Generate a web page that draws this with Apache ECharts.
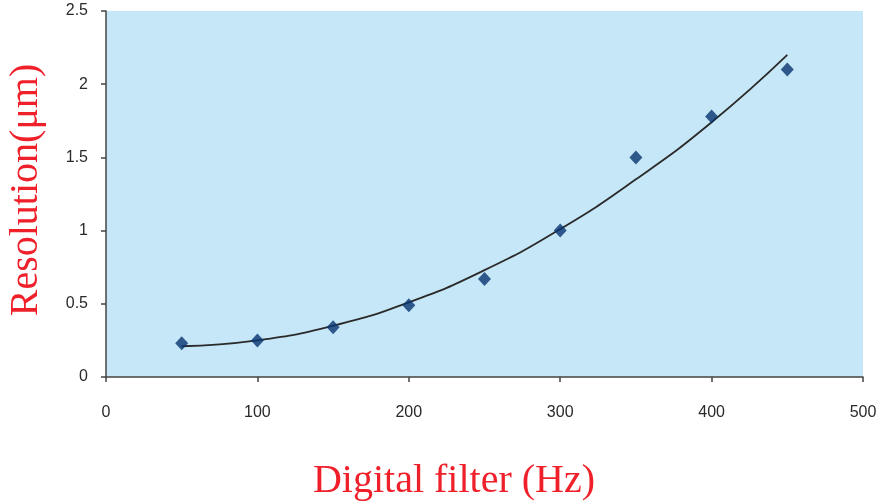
<!DOCTYPE html>
<html>
<head>
<meta charset="utf-8">
<script src="https://cdn.jsdelivr.net/npm/echarts@6/dist/echarts.min.js"></script>
<style>html,body{margin:0;padding:0;background:#fff}#c{width:883px;height:504px}</style>
</head>
<body>
<div id="c"></div>
<script>
var filterHz = [50, 100, 150, 200, 250, 300, 350, 400, 450];
var resolution = [0.23, 0.25, 0.34, 0.49, 0.67, 1.0, 1.5, 1.78, 2.1];
var trendHz = [50, 100, 150, 200, 250, 300, 350, 400, 450];
var trendRes = [0.21, 0.25, 0.35, 0.51, 0.73, 1.01, 1.35, 1.74, 2.2];
var xTicks = [0, 100, 200, 300, 400, 500];
var yTicks = [0, 0.5, 1, 1.5, 2, 2.5];
var xTitle = 'Digital filter (Hz)';
var yTitle = 'Resolution(μm)';

var chart = echarts.init(document.getElementById('c'));
chart.setOption({
  animation: false,
  grid: {left: 106, right: 20, top: 11, bottom: 127, show: true, backgroundColor: '#c6e7f7', borderWidth: 0, outerBoundsMode: 'none', containLabel: false},
  xAxis: {
    type: 'value', min: xTicks[0], max: xTicks[xTicks.length-1], interval: 100,
    axisLine: {lineStyle: {color: '#444', width: 1.5}},
    axisTick: {show: true, length: 5, lineStyle: {color: '#444', width: 1.5}},
    axisLabel: {fontFamily: 'Liberation Sans', fontSize: 16, color: '#2a2a2a', margin: 28},
    splitLine: {show: false}
  },
  yAxis: {
    type: 'value', min: yTicks[0], max: yTicks[yTicks.length-1], interval: 0.5,
    axisLine: {show: true, lineStyle: {color: '#444', width: 1.5}},
    axisTick: {show: true, length: 5, lineStyle: {color: '#444', width: 1.5}},
    axisLabel: {fontFamily: 'Liberation Sans', fontSize: 16, color: '#2a2a2a', margin: 18},
    splitLine: {show: false}
  },
  graphic: [
    {type: 'text', x: 454, y: 481, style: {text: xTitle, x: 0, y: 0, align: 'center', verticalAlign: 'middle', fontFamily: 'Liberation Serif', fontSize: 40, fill: '#f0202a'}},
    {type: 'text', style: {text: yTitle, x: 0, y: 0, align: 'center', verticalAlign: 'middle', fontFamily: 'Liberation Serif', fontSize: 40, fill: '#f0202a'}, x: 26, y: 190, rotation: Math.PI / 2}
  ],
  series: [
    {
      type: 'line', data: trendHz.map(function(x,i){return [x, trendRes[i]];}),
      smooth: true, showSymbol: false, symbol: 'none',
      lineStyle: {color: '#2a2a2a', width: 1.8}, z: 2
    },
    {
      type: 'scatter', data: filterHz.map(function(x,i){return [x, resolution[i]];}),
      symbol: 'diamond', symbolSize: [13, 14],
      itemStyle: {color: '#083570'}, z: 3
    }
  ]
});
</script>
</body>
</html>
